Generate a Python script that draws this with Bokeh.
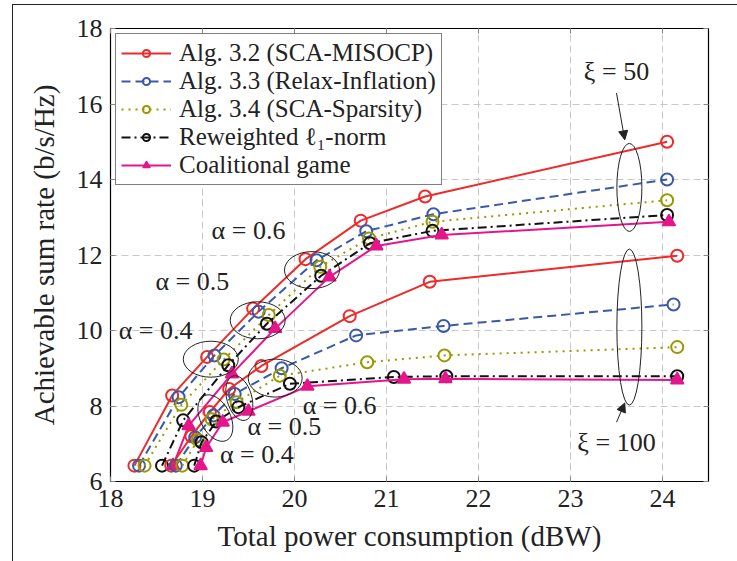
from bokeh.plotting import figure
from bokeh.models import Legend, LegendItem, LinearAxis, Arrow, NormalHead, FixedTicker, CustomJSTickFormatter
from bokeh.core.properties import value
from bokeh.embed import file_html
from bokeh.resources import INLINE

# ---------------- data ----------------
x_ticks = [18, 19, 20, 21, 22, 23, 24]
y_ticks = [6, 8, 10, 12, 14, 16, 18]

series_labels = [
    "Alg. 3.2 (SCA-MISOCP)",
    "Alg. 3.3 (Relax-Inflation)",
    "Alg. 3.4 (SCA-Sparsity)",
    "Reweighted ℓ₁-norm",
    "Coalitional game",
]

# xi = 50 (upper group)
misocp_x_50 = [18.26, 18.67, 19.05, 19.55, 20.12, 20.72, 21.42, 24.05]
misocp_y_50 = [6.42, 8.28, 9.30, 10.58, 11.89, 12.91, 13.55, 15.00]
relax_x_50 = [18.31, 18.74, 19.13, 19.61, 20.24, 20.78, 21.51, 24.05]
relax_y_50 = [6.42, 8.23, 9.34, 10.50, 11.86, 12.63, 13.08, 14.00]
sparsity_x_50 = [18.37, 18.77, 19.23, 19.72, 20.28, 20.81, 21.50, 24.05]
sparsity_y_50 = [6.42, 8.03, 9.23, 10.41, 11.69, 12.44, 12.88, 13.45]
l1_x_50 = [18.56, 18.79, 19.28, 19.70, 20.29, 20.82, 21.50, 24.05]
l1_y_50 = [6.42, 7.62, 9.08, 10.18, 11.45, 12.31, 12.64, 13.06]
game_x_50 = [18.68, 18.85, 19.32, 19.79, 20.38, 20.89, 21.60, 24.07]
game_y_50 = [6.42, 7.48, 8.85, 10.05, 11.42, 12.24, 12.53, 12.88]

# xi = 100 (lower group)
misocp_x_100 = [18.66, 18.88, 19.08, 19.29, 19.64, 20.60, 21.47, 24.16]
misocp_y_100 = [6.42, 7.20, 7.84, 8.45, 9.06, 10.38, 11.29, 11.98]
relax_x_100 = [18.71, 18.92, 19.12, 19.35, 19.86, 20.67, 21.62, 24.12]
relax_y_100 = [6.42, 7.17, 7.75, 8.32, 9.00, 9.87, 10.12, 10.69]
sparsity_x_100 = [18.78, 18.95, 19.10, 19.37, 19.84, 20.79, 21.63, 24.16]
sparsity_y_100 = [6.42, 7.10, 7.65, 8.10, 8.80, 9.16, 9.34, 9.56]
l1_x_100 = [18.91, 18.99, 19.15, 19.39, 19.95, 21.08, 21.65, 24.16]
l1_y_100 = [6.42, 7.04, 7.59, 7.97, 8.59, 8.77, 8.79, 8.79]
game_x_100 = [18.98, 19.04, 19.22, 19.50, 20.14, 21.19, 21.64, 24.16]
game_y_100 = [6.42, 6.90, 7.57, 7.86, 8.52, 8.71, 8.72, 8.69]

# annotation texts
alpha_texts = ["α = 0.6", "α = 0.5", "α = 0.4", "α = 0.6", "α = 0.5", "α = 0.4"]
alpha_text_x = [19.50, 18.89, 18.49, 20.49, 19.89, 19.59]
alpha_text_y = [12.64, 11.31, 10.00, 8.01, 7.46, 6.71]

ell_x = [19.09, 19.60, 20.19, 19.79, 19.40, 19.14, 23.64, 23.64]
ell_y = [9.24, 10.27, 11.60, 8.74, 8.21, 7.68, 13.79, 10.09]
ell_w = [55, 55, 55, 54, 46, 50, 25, 25]
ell_h = [36, 37, 37, 38, 25, 30, 88, 156]
ell_a = [0, 0, 0, 0, -1.3, -1.1, 0, 0]

FONT = "Liberation Serif"

p = figure(width=725, height=557, x_range=(18, 24.5), y_range=(6, 18),
           output_backend="svg", toolbar_location=None,
           min_border_left=97, min_border_right=30, min_border_top=23, min_border_bottom=81)
p.margin = (4, 0, 0, 12)
p.styles = {"border-left": "1px solid #222", "border-top": "1px solid #222"}
p.background_fill_color = "white"
p.border_fill_color = "white"
p.outline_line_color = "black"
p.outline_line_width = 1.2
p.outline_line_alpha = 1

for ax in (p.xaxis[0], p.yaxis[0]):
    ax.axis_line_color = None
    ax.major_tick_in = 5
    ax.major_tick_out = 0
    ax.minor_tick_line_color = None
    ax.major_tick_line_color = "#888888"
    ax.major_label_text_font = FONT
    ax.major_label_text_font_size = "26px"
    ax.major_label_text_color = "#222222"
    ax.axis_label_text_font = FONT
    ax.axis_label_text_font_size = "29px"
    ax.axis_label_text_font_style = "normal"
    ax.axis_label_text_color = "#222222"
    ax.major_label_standoff = 8

p.xaxis.ticker = FixedTicker(ticks=x_ticks)
p.yaxis.ticker = FixedTicker(ticks=y_ticks)
p.xaxis.axis_label = "Total power consumption (dBW)"
p.yaxis.axis_label = "Achievable sum rate (b/s/Hz)"
p.xaxis.axis_label_standoff = 10
p.yaxis.axis_label_standoff = 14

for loc in ("right", "above"):
    a = LinearAxis(ticker=FixedTicker(ticks=(y_ticks if loc == "right" else x_ticks)),
                   formatter=CustomJSTickFormatter(code="return ''"))
    a.axis_line_color = None
    a.major_tick_in = 5
    a.major_tick_out = 0
    a.minor_tick_line_color = None
    a.major_tick_line_color = "#888888"
    a.major_label_text_font_size = "10px"
    a.major_label_standoff = 0
    p.add_layout(a, loc)

p.xgrid.ticker = FixedTicker(ticks=x_ticks)
p.ygrid.ticker = FixedTicker(ticks=y_ticks)
for g in (p.xgrid[0], p.ygrid[0]):
    g.grid_line_color = "#c8c8c8"
    g.grid_line_dash = "7 4"
    g.grid_line_width = 1

styles = [
    dict(color="#ee2a2a", dash="solid", marker="circle"),
    dict(color="#3a5aa8", dash="9 5", marker="circle"),
    dict(color="#999900", dash="2 5", marker="circle"),
    dict(color="#111111", dash="9 4 2 4", marker="circle"),
    dict(color="#e5168c", dash="solid", marker="triangle"),
]

groups = [
    [(misocp_x_50, misocp_y_50), (relax_x_50, relax_y_50), (sparsity_x_50, sparsity_y_50),
     (l1_x_50, l1_y_50), (game_x_50, game_y_50)],
    [(misocp_x_100, misocp_y_100), (relax_x_100, relax_y_100), (sparsity_x_100, sparsity_y_100),
     (l1_x_100, l1_y_100), (game_x_100, game_y_100)],
]

legend_items = []
for gi, grp in enumerate(groups):
    for si, (xs, ys) in enumerate(grp):
        st = styles[si]
        lr = p.line(xs, ys, line_color=st["color"], line_width=2, line_dash=st["dash"])
        if st["marker"] == "circle":
            sr = p.scatter(xs, ys, marker="circle", size=12, line_color=st["color"],
                           fill_color=None, line_width=2)
        else:
            sr = p.scatter(xs, ys, marker="triangle", size=13, line_color=st["color"],
                           fill_color=st["color"], line_width=1.5)
        if gi == 0:
            legend_items.append(LegendItem(label=series_labels[si], renderers=[lr, sr]))

# ellipses
p.ellipse(x=ell_x, y=ell_y, width=ell_w, height=ell_h, angle=ell_a,
          width_units="screen", height_units="screen",
          fill_color=None, line_color="#222222", line_width=1)

# alpha labels
p.text(x=alpha_text_x, y=alpha_text_y, text=alpha_texts, text_font=value(FONT),
       text_font_size="26px", text_align="center", text_baseline="middle", text_color="#222222")

# xi labels and arrows
p.text(x=[23.5, 23.5], y=[16.86, 7.04], text=["ξ = 50", "ξ = 100"], text_font=value(FONT),
       text_font_size="26px", text_align="center", text_baseline="middle", text_color="#222222")
p.add_layout(Arrow(x_start=23.5, y_start=16.29, x_end=23.59, y_end=15.05,
                   end=NormalHead(size=9, fill_color="#222222", line_color="#222222"),
                   line_color="#222222", line_width=1))
p.add_layout(Arrow(x_start=23.5, y_start=7.57, x_end=23.59, y_end=8.08,
                   end=NormalHead(size=9, fill_color="#222222", line_color="#222222"),
                   line_color="#222222", line_width=1))

legend = Legend(items=legend_items, location="top_left")
legend.label_text_font = FONT
legend.label_text_font_size = "25px"
legend.label_text_color = "#222222"
legend.glyph_width = 50
legend.glyph_height = 18
legend.label_height = 18
legend.label_standoff = 8
legend.spacing = -5
legend.padding = 5
legend.margin = 5
legend.border_line_color = "black"
legend.border_line_width = 1
legend.background_fill_alpha = 1
p.add_layout(legend)

open("out.html", "w").write(file_html(p, INLINE))
